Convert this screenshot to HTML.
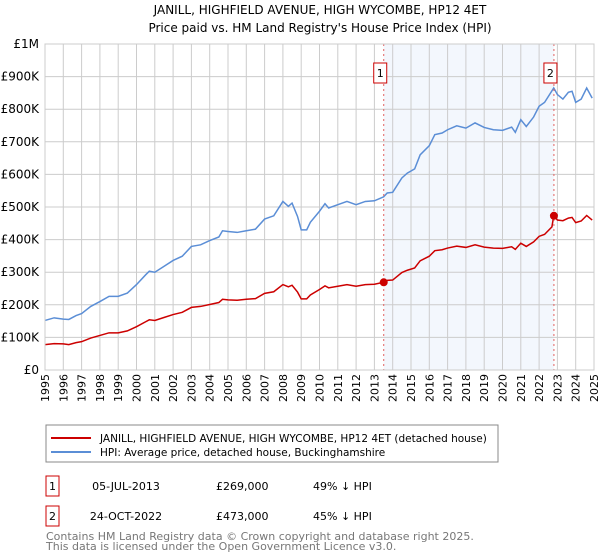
<!DOCTYPE html>
<html><head><meta charset="utf-8"><style>
body{margin:0;background:#fff;font-family:"DejaVu Sans","Liberation Sans",sans-serif;}
svg{display:block}
</style></head><body>
<svg id="chart" width="600" height="560" viewBox="0 0 600 560" font-family="DejaVu Sans, Liberation Sans, sans-serif">
<text x="320" y="14" font-size="12" text-anchor="middle">JANILL, HIGHFIELD AVENUE, HIGH WYCOMBE, HP12 4ET</text>
<text x="320" y="32" font-size="12" text-anchor="middle">Price paid vs. HM Land Registry's House Price Index (HPI)</text>
<g id="plot"></g>
<g>
<rect x="46" y="425" width="452" height="37" fill="#fff" stroke="#888"/>
<line x1="51" y1="438" x2="91" y2="438" stroke="#cc0000" stroke-width="2"/>
<text x="100" y="442" font-size="10.5">JANILL, HIGHFIELD AVENUE, HIGH WYCOMBE, HP12 4ET (detached house)</text>
<line x1="51" y1="452" x2="91" y2="452" stroke="#5b8ed6" stroke-width="2"/>
<text x="100" y="456" font-size="10.5">HPI: Average price, detached house, Buckinghamshire</text>
</g>
<g font-size="11">
<rect x="46" y="476" width="13" height="20" fill="#fff" stroke="#cc0000"/>
<text x="52.5" y="490" text-anchor="middle">1</text>
<text x="126" y="490" text-anchor="middle">05-JUL-2013</text>
<text x="216" y="490">£269,000</text>
<text x="313" y="490">49% ↓ HPI</text>
<rect x="46" y="506" width="13" height="20" fill="#fff" stroke="#cc0000"/>
<text x="52.5" y="520" text-anchor="middle">2</text>
<text x="126" y="520" text-anchor="middle">24-OCT-2022</text>
<text x="216" y="520">£473,000</text>
<text x="313" y="520">45% ↓ HPI</text>
</g>
<text x="46" y="540" font-size="11" fill="#777">Contains HM Land Registry data © Crown copyright and database right 2025.</text>
<text x="46" y="550" font-size="11" fill="#777">This data is licensed under the Open Government Licence v3.0.</text>
</svg>
<script>
const hpiYears=[1995.0,1995.5,1996.0,1996.3,1996.7,1997.0,1997.5,1998.0,1998.5,1999.0,1999.5,2000.0,2000.5,2000.7,2001.0,2001.5,2002.0,2002.5,2003.0,2003.5,2004.0,2004.5,2004.7,2005.0,2005.5,2006.0,2006.5,2007.0,2007.5,2008.0,2008.3,2008.5,2008.8,2009.0,2009.3,2009.5,2010.0,2010.3,2010.5,2011.0,2011.5,2012.0,2012.5,2013.0,2013.5,2013.7,2014.0,2014.5,2014.8,2015.2,2015.5,2016.0,2016.3,2016.7,2017.0,2017.5,2018.0,2018.5,2019.0,2019.5,2020.0,2020.5,2020.7,2021.0,2021.3,2021.7,2022.0,2022.3,2022.8,2023.0,2023.3,2023.6,2023.8,2024.0,2024.3,2024.6,2024.9];
const hpiValues=[152,160,156,155,167,173,195,210,226,226,236,262,292,303,300,318,336,349,379,384,397,408,427,425,422,427,432,463,473,517,502,512,471,430,430,453,487,510,497,507,517,507,517,519,531,543,545,589,604,617,660,688,722,727,737,749,742,758,744,737,735,745,729,768,747,776,809,821,865,845,831,852,855,821,831,865,834];
const priceYears=[1995.0,1995.5,1996.0,1996.3,1996.7,1997.0,1997.5,1998.0,1998.5,1999.0,1999.5,2000.0,2000.5,2000.7,2001.0,2001.5,2002.0,2002.5,2003.0,2003.5,2004.0,2004.5,2004.7,2005.0,2005.5,2006.0,2006.5,2007.0,2007.5,2008.0,2008.3,2008.5,2008.8,2009.0,2009.3,2009.5,2010.0,2010.3,2010.5,2011.0,2011.5,2012.0,2012.5,2013.0,2013.5,2013.7,2014.0,2014.5,2014.8,2015.2,2015.5,2016.0,2016.3,2016.7,2017.0,2017.5,2018.0,2018.5,2019.0,2019.5,2020.0,2020.5,2020.7,2021.0,2021.3,2021.7,2022.0,2022.3,2022.7,2022.8,2023.0,2023.3,2023.6,2023.8,2024.0,2024.3,2024.6,2024.9];
const priceValues=[78,81,80,78,84,87,98,106,114,114,120,133,148,154,152,161,170,177,192,195,201,207,217,215,214,217,219,235,240,262,255,260,239,218,218,230,247,258,252,257,262,257,262,263,269,275,276,299,306,313,335,349,366,369,374,380,376,384,377,374,373,378,370,389,379,393,410,416,439,473,460,458,466,468,452,457,474,460];
const saleYears=[2013.51,2022.81];
const saleValues=[269,473];
const saleLabels=["1","2"];
const yTicks=[0,100,200,300,400,500,600,700,800,900,1000];
const yTickLabels=["£0","£100K","£200K","£300K","£400K","£500K","£600K","£700K","£800K","£900K","£1M"];
const xTicks=[1995,1996,1997,1998,1999,2000,2001,2002,2003,2004,2005,2006,2007,2008,2009,2010,2011,2012,2013,2014,2015,2016,2017,2018,2019,2020,2021,2022,2023,2024,2025];

const L=45,R=594,T=44,B=370;
const xs=y=>L+(y-1995)/30*(R-L);
const ys=v=>B-v/1000*(B-T);
const NS="http://www.w3.org/2000/svg";
const g=document.getElementById('plot');
function mk(tag,attrs,parent){const e=document.createElementNS(NS,tag);for(const k in attrs)e.setAttribute(k,attrs[k]);(parent||g).appendChild(e);return e;}

let r=mk('rect',{x:L,y:T,width:R-L,height:B-T,fill:'#fff'});


let sh=mk('rect',{x:xs(saleYears[0]),y:T,width:xs(saleYears[1])-xs(saleYears[0]),height:B-T,fill:'#eef3fc',opacity:0.7});


xTicks.forEach(t=>{
  let l=mk('line',{x1:xs(t),x2:xs(t),y1:T,y2:B,stroke:'#ccc','stroke-width':1});
  
  
  let tx=mk('text',{x:0,y:0,'font-size':11,'text-anchor':'end',transform:`translate(${xs(t)+4},${B+4}) rotate(-90)`});
  tx.textContent=t;
  
  
});
yTicks.forEach((t,i)=>{
  let l=mk('line',{x1:L,x2:R,y1:ys(t),y2:ys(t),stroke:'#ccc','stroke-width':1});
  
  
  let tx=mk('text',{x:L-6,y:ys(t)+4,'font-size':12,'text-anchor':'end'});
  tx.textContent=yTickLabels[i];
  
  
});
let hp=mk('polyline',{points:hpiYears.map((y,i)=>xs(y)+','+ys(hpiValues[i])).join(' '),fill:'none',stroke:'#5b8ed6','stroke-width':1.5});


let pp=mk('polyline',{points:priceYears.map((y,i)=>xs(y)+','+ys(priceValues[i])).join(' '),fill:'none',stroke:'#cc0000','stroke-width':1.5});


saleYears.forEach((y,i)=>{
  let v=mk('line',{x1:xs(y),x2:xs(y),y1:T,y2:B,stroke:'#e06060','stroke-width':1,'stroke-dasharray':'2,3'});
  
  
  let c=mk('circle',{cx:xs(y),cy:ys(saleValues[i]),r:4,fill:'#cc0000'});
  
  
  let b=mk('rect',{x:xs(y)-10,y:63,width:13,height:20,fill:'#fff',stroke:'#cc0000'});
  
  
  let t=mk('text',{x:xs(y)-3.5,y:77,'font-size':11,'text-anchor':'middle'});
  t.textContent=saleLabels[i];
  
  
});
let ax=mk('rect',{x:L,y:T,width:R-L,height:B-T,fill:'none',stroke:'#ccc'});


</script>
</body></html>
